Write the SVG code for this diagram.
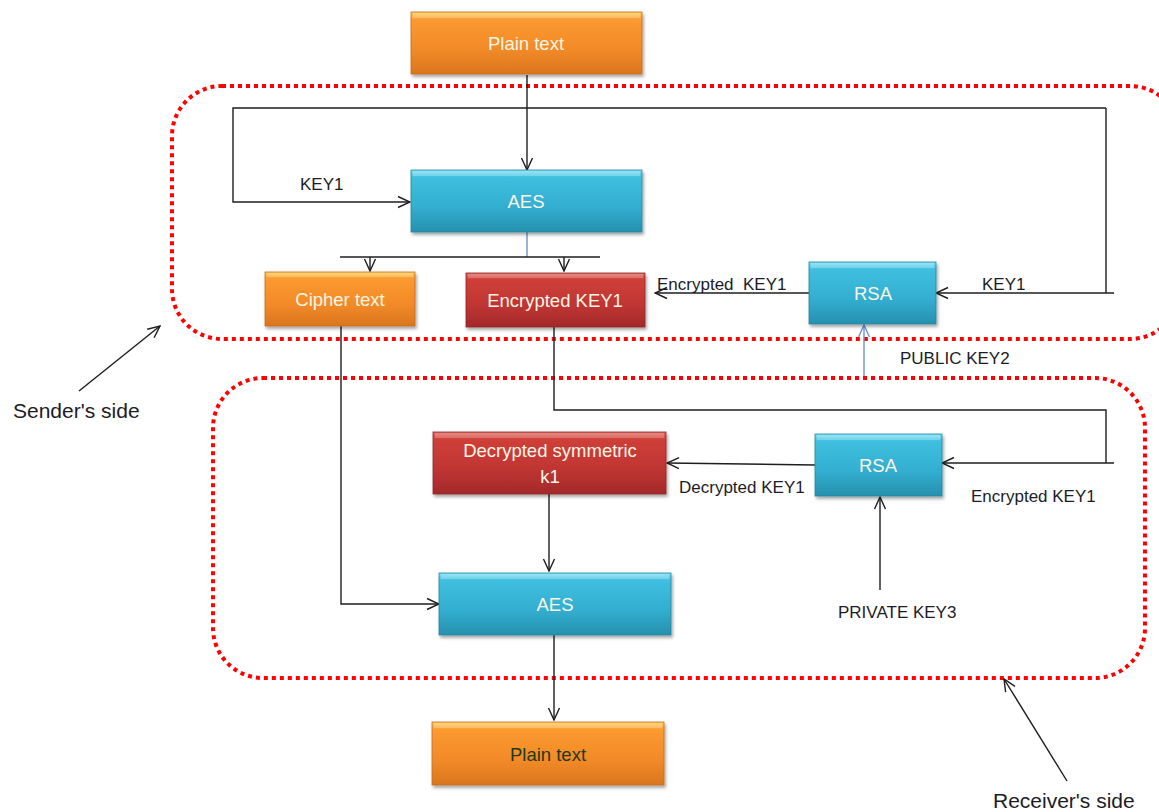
<svg xmlns="http://www.w3.org/2000/svg" width="1159" height="812" viewBox="0 0 1159 812">
  <style>
    .lbl { font-family: "Liberation Sans", Arial, sans-serif; font-size: 17px; fill: #1c1c28; }
    .side { font-size: 21px; }
    .box-t { font-family: "Liberation Sans", Arial, sans-serif; font-size: 18.5px; fill: #fbf6e6; text-anchor: middle; }
    .box-dark { fill: #1f3a1a; }
    .wire { fill: none; stroke: #1e1e1e; stroke-width: 1.4; }
    .wire-blue { fill: none; stroke: #6f93cc; stroke-width: 1.4; }
    .zone { fill: none; stroke: #ff0000; stroke-width: 4; stroke-dasharray: 4 4; }
    .orange { fill: url(#gOrange); stroke: #c86c1a; stroke-width: 0.8; filter: url(#shadow); }
    .blue { fill: url(#gBlue); stroke: #23869f; stroke-width: 0.8; filter: url(#shadow); }
    .red { fill: url(#gRed); stroke: #8e2424; stroke-width: 0.8; filter: url(#shadow); }
    .hl { fill: #ffffff; opacity: 0.22; }
  </style>
  <defs>
    <linearGradient id="gOrange" x1="0" y1="0" x2="0" y2="1">
      <stop offset="0" stop-color="#ffd05a"/>
      <stop offset="0.12" stop-color="#fb9a30"/>
      <stop offset="0.6" stop-color="#f28a28"/>
      <stop offset="1" stop-color="#d9761e"/>
    </linearGradient>
    <linearGradient id="gBlue" x1="0" y1="0" x2="0" y2="1">
      <stop offset="0" stop-color="#7ee0f5"/>
      <stop offset="0.12" stop-color="#3fbfdf"/>
      <stop offset="0.6" stop-color="#33aed0"/>
      <stop offset="1" stop-color="#2690ae"/>
    </linearGradient>
    <linearGradient id="gRed" x1="0" y1="0" x2="0" y2="1">
      <stop offset="0" stop-color="#e06a60"/>
      <stop offset="0.12" stop-color="#cf3f39"/>
      <stop offset="0.6" stop-color="#bf3532"/>
      <stop offset="1" stop-color="#a2292a"/>
    </linearGradient>
    <filter id="shadow" x="-10%" y="-20%" width="125%" height="150%">
      <feDropShadow dx="1.5" dy="2.5" stdDeviation="1.8" flood-color="#000" flood-opacity="0.35"/>
    </filter>
    <marker id="arr" viewBox="0 0 14 14" refX="13" refY="7" markerWidth="14" markerHeight="14" markerUnits="userSpaceOnUse" orient="auto">
      <path d="M1,1.5 L13,7 L1,12.5" fill="none" stroke="#1e1e1e" stroke-width="1.4"/>
    </marker>
    <marker id="arrBlue" viewBox="0 0 14 14" refX="13" refY="7" markerWidth="14" markerHeight="14" markerUnits="userSpaceOnUse" orient="auto">
      <path d="M1,1.5 L13,7 L1,12.5" fill="none" stroke="#6f93cc" stroke-width="1.4"/>
    </marker>
  </defs>

  <rect width="1159" height="812" fill="#ffffff"/>

  <!-- side regions -->
  <rect id="sender-zone" class="zone" x="172" y="86" width="1008" height="253" rx="50" ry="50"/>
  <rect id="receiver-zone" class="zone" x="213" y="378" width="932" height="300" rx="50" ry="50"/>

  <!-- connectors -->
  <g id="connectors">
    <path class="wire" d="M527,75 V170" marker-end="url(#arr)"/>
    <path class="wire" d="M1106,108 H233 V202 H410" marker-end="url(#arr)"/>
    <path class="wire" d="M1106,108 V293"/>
    <path class="wire" d="M1114,293 H936" marker-end="url(#arr)"/>
    <path class="wire-blue" d="M527,232 V257"/>
    <path class="wire" d="M340,257 H600"/>
    <path class="wire" d="M370,257 V271" marker-end="url(#arr)"/>
    <path class="wire" d="M564,257 V271" marker-end="url(#arr)"/>
    <path class="wire" d="M809,293 H655" marker-end="url(#arr)"/>
    <path class="wire-blue" d="M864,376 V325" marker-end="url(#arrBlue)"/>
    <path class="wire" d="M554,327 V410 H1106 V463"/>
    <path class="wire" d="M1114,463 H942" marker-end="url(#arr)"/>
    <path class="wire" d="M815,465 L667,463" marker-end="url(#arr)"/>
    <path class="wire" d="M549,494 V571" marker-end="url(#arr)"/>
    <path class="wire" d="M341,326 V604 H439" marker-end="url(#arr)"/>
    <path class="wire" d="M880,590 V497" marker-end="url(#arr)"/>
    <path class="wire" d="M554,635 V720" marker-end="url(#arr)"/>
    <path class="wire" d="M79,391 L160,326" marker-end="url(#arr)"/>
    <path class="wire" d="M1067,781 L1004,679" marker-end="url(#arr)"/>
  </g>

  <!-- nodes -->
  <g id="plain-text-in">
    <rect class="orange" x="411" y="12" width="231" height="62"/>
    <rect class="hl" x="413" y="13" width="227" height="5"/>
    <text class="box-t" x="526" y="50">Plain text</text>
  </g>
  <g id="aes-sender">
    <rect class="blue" x="411" y="170" width="231" height="62"/>
    <rect class="hl" x="413" y="171" width="227" height="5"/>
    <text class="box-t" x="526" y="208">AES</text>
  </g>
  <g id="cipher-text">
    <rect class="orange" x="265" y="272" width="150" height="54"/>
    <rect class="hl" x="267" y="273" width="146" height="4"/>
    <text class="box-t" x="340" y="306">Cipher text</text>
  </g>
  <g id="encrypted-key1">
    <rect class="red" x="466" y="273" width="179" height="54"/>
    <rect class="hl" x="468" y="274" width="175" height="4"/>
    <text class="box-t" x="555" y="307">Encrypted KEY1</text>
  </g>
  <g id="rsa-sender">
    <rect class="blue" x="809" y="262" width="127" height="62"/>
    <rect class="hl" x="811" y="263" width="123" height="5"/>
    <text class="box-t" x="873" y="300">RSA</text>
  </g>
  <g id="decrypted-k1">
    <rect class="red" x="433" y="432" width="233" height="62"/>
    <rect class="hl" x="435" y="433" width="229" height="5"/>
    <text class="box-t" x="550" y="457">Decrypted symmetric</text>
    <text class="box-t" x="550" y="483">k1</text>
  </g>
  <g id="rsa-receiver">
    <rect class="blue" x="815" y="434" width="127" height="62"/>
    <rect class="hl" x="817" y="435" width="123" height="5"/>
    <text class="box-t" x="878" y="472">RSA</text>
  </g>
  <g id="aes-receiver">
    <rect class="blue" x="439" y="573" width="232" height="62"/>
    <rect class="hl" x="441" y="574" width="228" height="5"/>
    <text class="box-t" x="555" y="611">AES</text>
  </g>
  <g id="plain-text-out">
    <rect class="orange" x="432" y="722" width="232" height="63"/>
    <rect class="hl" x="434" y="723" width="228" height="5"/>
    <text class="box-t box-dark" x="548" y="761">Plain text</text>
  </g>

  <!-- labels -->
  <g id="labels">
    <text class="lbl" x="300" y="190">KEY1</text>
    <text class="lbl" x="657" y="290" style="white-space:pre">Encrypted  KEY1</text>
    <text class="lbl" x="982" y="290">KEY1</text>
    <text class="lbl" x="900" y="364">PUBLIC KEY2</text>
    <text class="lbl" x="679" y="493">Decrypted KEY1</text>
    <text class="lbl" x="971" y="502">Encrypted KEY1</text>
    <text class="lbl" x="838" y="618">PRIVATE KEY3</text>
    <text class="lbl side" x="13" y="418">Sender's side</text>
    <text class="lbl side" x="993" y="808">Receiver's side</text>
  </g>
</svg>
